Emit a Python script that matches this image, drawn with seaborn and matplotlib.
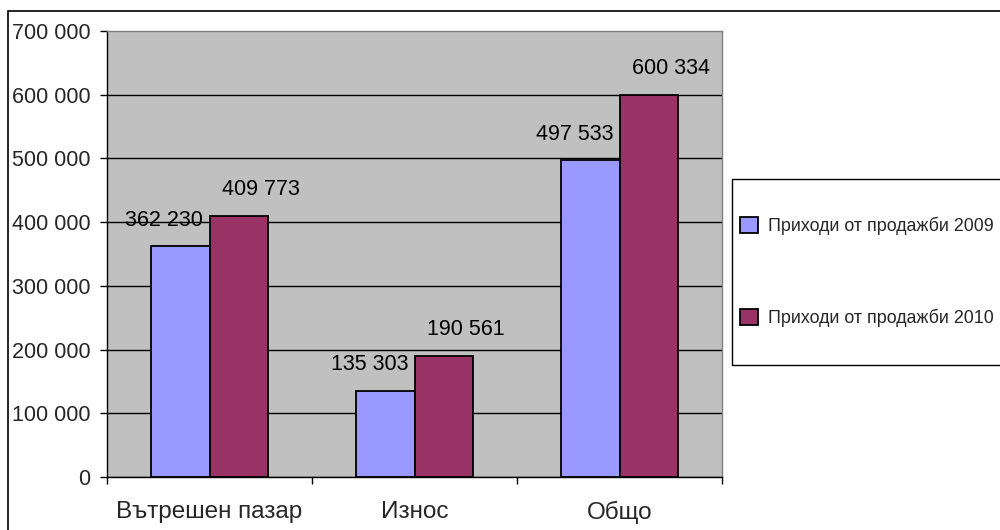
import matplotlib
matplotlib.use('Agg')
import matplotlib.pyplot as plt
import matplotlib.ticker as mticker
from matplotlib.patches import Rectangle
import seaborn as sns
import pandas as pd

# --- data ---
categories = ['Вътрешен пазар', 'Износ', 'Общо']
series_names = ['Приходи от продажби 2009', 'Приходи от продажби 2010']
sales_2009 = [362230, 135303, 497533]
sales_2010 = [409773, 190561, 600334]
y_ticks = [0, 100000, 200000, 300000, 400000, 500000, 600000, 700000]
bar_colors = ['#9999FF', '#993366']

df = pd.DataFrame({
    'category': categories * 2,
    'series': [series_names[0]] * len(categories) + [series_names[1]] * len(categories),
    'value': sales_2009 + sales_2010,
})

sns.set_style('white')
plt.rcParams['font.family'] = ['Liberation Sans', 'DejaVu Sans']


def space_thousands(v, pos=None):
    return f'{v:,.0f}'.replace(',', ' ')


fig = plt.figure(figsize=(10, 5.3), dpi=100)
ax = fig.add_axes([0.107, 0.1, 0.615, 0.8415])
ax.set_facecolor('#C0C0C0')

sns.barplot(data=df, x='category', y='value', hue='series', palette=bar_colors,
            width=0.57, gap=0, saturation=1, edgecolor='black', linewidth=1.3, ax=ax)

# --- data labels (Excel puts them a bit to the side) ---
label_dx = [-16, 22]
for container, dx in zip(ax.containers, label_dx):
    for bar in container:
        h = bar.get_height()
        ax.annotate(space_thousands(h), (bar.get_x() + bar.get_width() / 2, h),
                    xytext=(dx, 26), textcoords='offset pixels',
                    ha='center', va='center', fontsize=15.5, color='black')

# --- axes ---
ax.set_xlim(-0.5, len(categories) - 0.5)
ax.set_ylim(0, 700000)
ax.set_yticks(y_ticks)
ax.yaxis.set_major_formatter(mticker.FuncFormatter(space_thousands))
ax.set_xlabel('')
ax.set_ylabel('')

# ticks on the category boundaries, labels in the middle
ax.set_xticks([i - 0.5 for i in range(len(categories) + 1)], labels=[''] * (len(categories) + 1))
ax.set_xticks(range(len(categories)), labels=categories, minor=True)
ax.tick_params(axis='x', which='major', direction='out', length=5, width=1, color='black', bottom=True)
ax.tick_params(axis='x', which='minor', length=0, pad=17, labelsize=17.5, bottom=True)
ax.tick_params(axis='y', direction='out', length=5, width=1, color='black', pad=7, labelsize=15.5, left=True)

ax.yaxis.grid(True, color='black', linewidth=1)
ax.xaxis.grid(False)
ax.set_axisbelow(True)
ax.get_ygridlines()[-1].set_visible(False)

for side in ['left', 'bottom']:
    ax.spines[side].set_color('black')
    ax.spines[side].set_linewidth(1)
for side in ['top', 'right']:
    ax.spines[side].set_color('#808080')
    ax.spines[side].set_linewidth(1)

# --- legend (box runs off the right edge as in the reference) ---
handles, labels = ax.get_legend_handles_labels()
ax.legend_.remove()
fig.legend(handles, labels, loc='upper left', bbox_to_anchor=(0.740, 1 - 217 / 530),
           frameon=False, fontsize=12.9, handlelength=1.0, handleheight=1.0,
           handletextpad=0.55, labelspacing=4.1, borderpad=0, borderaxespad=0)
fig.add_artist(Rectangle((0.732, 1 - 365 / 530), 0.4, 186 / 530, transform=fig.transFigure,
                         fill=False, edgecolor='black', linewidth=1))

# outer chart border
fig.add_artist(Rectangle((0.008, -0.1), 1.1, 1.1 - 11 / 530, transform=fig.transFigure,
                         fill=False, edgecolor='black', linewidth=1.2))

fig.savefig('out.png', dpi=100, facecolor='white')
